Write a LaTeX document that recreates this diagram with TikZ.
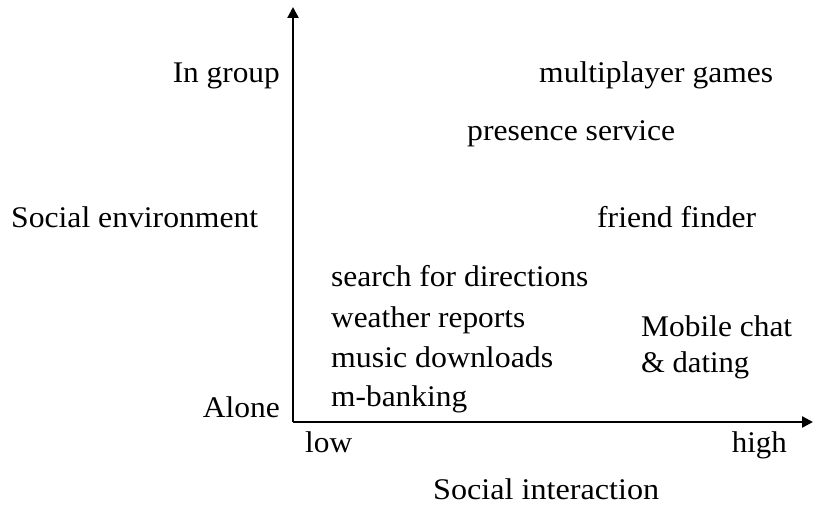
\documentclass[tikz,border=0pt]{standalone}
\usepackage{fontspec}
\setmainfont{Liberation Serif}
\usetikzlibrary{arrows.meta}
\newcommand\fitw[2]{\resizebox{#1pt}{\height}{#2}}
\begin{document}
\begin{tikzpicture}[x=1pt,y=-1pt,
  lbl/.style={anchor=base west,inner sep=0pt,font=\fontsize{30}{32}\selectfont},
  lblr/.style={anchor=base east,inner sep=0pt,font=\fontsize{30}{32}\selectfont},
  axis/.style={line width=2.3pt,-{Triangle[length=11pt,width=11pt]}}]
\useasboundingbox (0,0) rectangle (814,505);
\coordinate (O) at (293,422);
\coordinate (Ytop) at (293,7);
\coordinate (Xend) at (813,422);
\draw[axis] (O) -- (Ytop);
\draw[axis] (O) -- (Xend);
\node[lblr] (ingroup) at (280,83) {\fitw{107}{In group}};
\node[lbl] (mpg) at (539,83) {\fitw{234}{multiplayer games}};
\node[lbl] (pres) at (467,141) {\fitw{208}{presence service}};
\node[lbl] (socenv) at (11,228) {\fitw{247}{Social environment}};
\node[lbl] (ff) at (597,228) {\fitw{159}{friend finder}};
\node[lbl] (sfd) at (331,286) {\fitw{257}{search for directions}};
\node[lbl] (wr) at (331,327) {\fitw{194}{weather reports}};
\node[lbl] (md) at (331,367) {\fitw{222}{music downloads}};
\node[lbl] (mb) at (331,406) {\fitw{136}{m-banking}};
\node[lbl] (mc) at (641,336) {\fitw{151}{Mobile chat}};
\node[lbl] (dat) at (641,372) {\fitw{108}{\& dating}};
\node[lblr] (alone) at (280,417) {\fitw{77}{Alone}};
\node[lbl] (low) at (305,452) {\fitw{47}{low}};
\node[lblr] (high) at (787,452) {\fitw{55}{high}};
\node[lbl] (si) at (433,499) {\fitw{226}{Social interaction}};
\end{tikzpicture}
\end{document}
